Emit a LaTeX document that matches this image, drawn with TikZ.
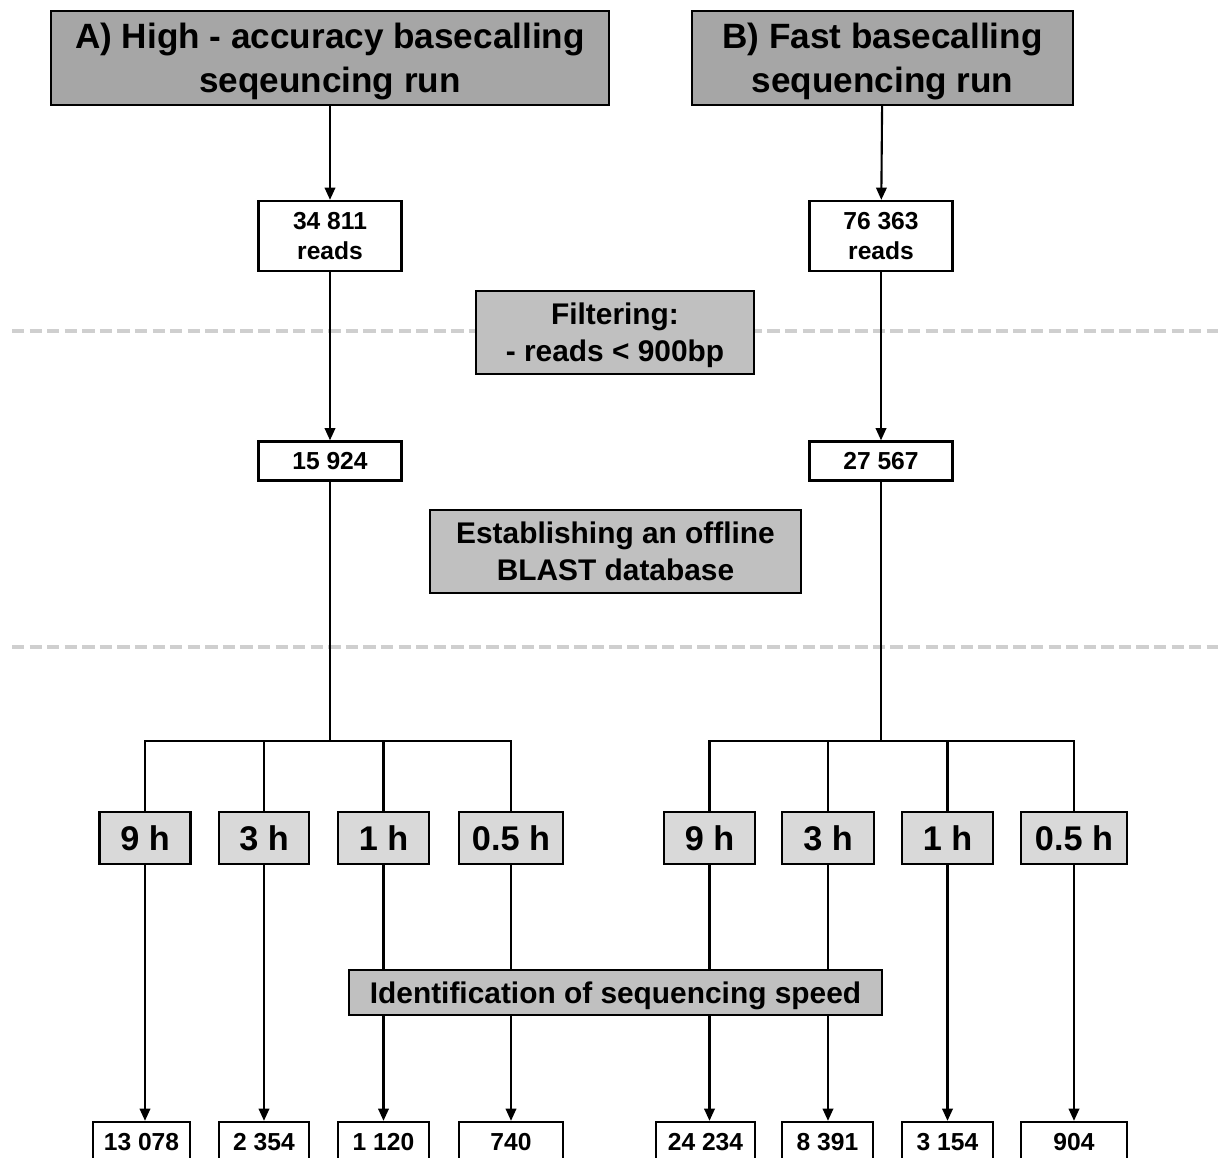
\documentclass[tikz,border=0pt]{standalone}
\usepackage{fontspec}
\setmainfont{Liberation Sans}
\usetikzlibrary{arrows.meta,backgrounds}

\definecolor{runfill}{HTML}{A6A6A6}
\definecolor{stepfill}{HTML}{C0C0C0}
\definecolor{timefill}{HTML}{D9D9D9}
\definecolor{sepline}{HTML}{CFCFCF}

\tikzset{
	box/.style={draw, line width=1.3pt, inner sep=0pt, align=center},
	runbox/.style={box, fill=runfill, minimum height=1.88cm, text depth=0pt, font=\bfseries\fontsize{20}{25}\selectfont},
	stepbox/.style={box, fill=stepfill, text depth=0pt, font=\bfseries\fontsize{17}{21}\selectfont},
	countbox/.style={box, fill=white, minimum width=2.86cm, font=\bfseries\fontsize{14}{17}\selectfont},
	timebox/.style={box, fill=timefill, minimum height=1.04cm, font=\bfseries\fontsize{19.5}{22}\selectfont},
	link/.style={line width=1.2pt},
	arr/.style={link, -{Triangle[length=7pt,width=6pt]}},
	sep/.style={sepline, line width=2.8pt, dash pattern=on 7pt off 3pt}
}

\begin{document}
\begin{tikzpicture}[x=0.02cm, y=-0.02cm]
	\useasboundingbox (0,0) rectangle (1218,1158);
	\clip (0,0) rectangle (1218,1158);

	% runs
	\node[runbox, minimum width=11.16cm] (runA) at (330,58) {A) High - accuracy basecalling\\seqeuncing run};
	\node[runbox, minimum width=7.62cm] (runB) at (882.5,58) {B) Fast basecalling\\sequencing run};

	% read counts
	\node[countbox, minimum height=1.40cm] (readsA) at (330,236) {34 811\\reads};
	\node[countbox, minimum height=1.40cm] (readsB) at (881,236) {76 363\\reads};
	\node[countbox, minimum height=0.78cm] (cntA) at (330,461) {15 924};
	\node[countbox, minimum height=0.78cm] (cntB) at (881,461) {27 567};

	% steps
	\node[stepbox, minimum width=5.56cm, minimum height=1.66cm] (filter) at (615,332.5) {Filtering:\\- reads < 900bp};
	\node[stepbox, minimum width=7.42cm, minimum height=1.66cm] (blast) at (615.5,551.5) {Establishing an offline\\BLAST database};

	\coordinate (brA) at (330,741);
	\coordinate (brB) at (881,741);

	% time points and results
	\foreach \i/\x/\w/\t/\xb/\wb/\n in {1/145/1.82/9 h/141.5/1.94/13 078, 2/264/1.80/3 h/264/1.80/2 354, 3/383.5/1.82/1 h/383.5/1.82/1 120, 4/511/2.08/0.5 h/511/2.08/740}{
		\node[timebox, minimum width=\w cm] (tA\i) at (\x,838) {\t};
		\node[countbox, minimum width=\wb cm, minimum height=0.80cm] (nA\i) at (\xb,1142) {\n};
	}
	\foreach \i/\x/\w/\t/\xb/\wb/\n in {1/709.5/1.82/9 h/705.5/1.98/24 234, 2/828/1.84/3 h/827.5/1.82/8 391, 3/947.5/1.82/1 h/947.5/1.82/3 154, 4/1074/2.12/0.5 h/1074/2.12/904}{
		\node[timebox, minimum width=\w cm] (tB\i) at (\x,838) {\t};
		\node[countbox, minimum width=\wb cm, minimum height=0.80cm] (nB\i) at (\xb,1142) {\n};
	}

	\node[stepbox, minimum width=10.66cm, minimum height=0.90cm] (ident) at (615.5,992.5) {Identification of sequencing speed};

	\begin{pgfonlayer}{background}
		\draw[sep] (12,331) -- (1218,331);
		\draw[sep] (12,647) -- (1218,647);

		\draw[arr] (runA) -- (readsA);
		\draw[arr] (runB) -- (readsB);
		\draw[arr] (readsA) -- (cntA);
		\draw[arr] (readsB) -- (cntB);
		\draw[link] (cntA) -- (brA);
		\draw[link] (cntB) -- (brB);
		\draw[link] (tA1) |- (brA) -| (tA4);
		\draw[link] (tB1) |- (brB) -| (tB4);
		\foreach \i in {2,3}{
			\draw[link] (tA\i) -- (tA\i |- brA);
			\draw[link] (tB\i) -- (tB\i |- brB);
		}
		\foreach \i in {1,...,4}{
			\draw[arr] (tA\i) -- (tA\i |- nA\i.north);
			\draw[arr] (tB\i) -- (tB\i |- nB\i.north);
		}
	\end{pgfonlayer}
\end{tikzpicture}
\end{document}
